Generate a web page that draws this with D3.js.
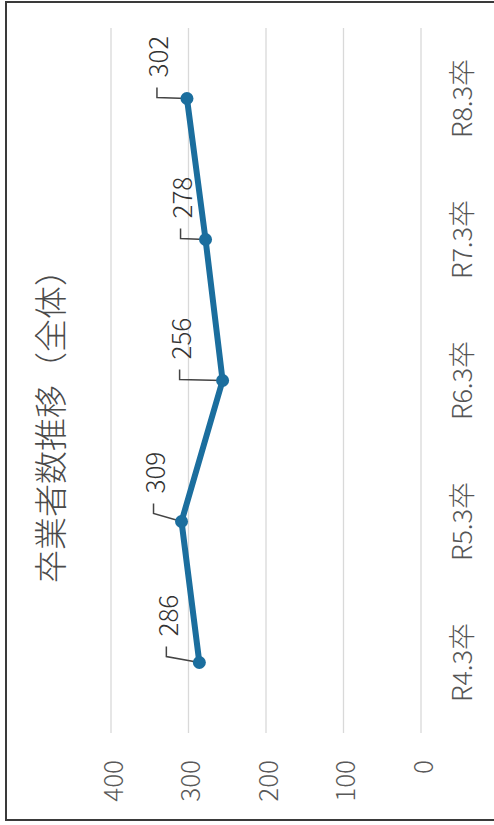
<!DOCTYPE html>
<html><head><meta charset="utf-8">
<script src="https://cdn.jsdelivr.net/npm/d3@7/dist/d3.min.js"></script>
<style>html,body{margin:0;padding:0;background:#fff;}svg{display:block;}</style>
</head><body>
<svg id="chart" width="494" height="825"></svg>
<script>
const title = "卒業者数推移（全体）";
const categories = ["R4.3卒", "R5.3卒", "R6.3卒", "R7.3卒", "R8.3卒"];
const values = [286, 309, 256, 278, 302];
const yTicks = [0, 100, 200, 300, 400];
// label nudges (layout only): [along category axis, across value axis] in px
const labelNudge = [[26, -33], [28, -28], [21, -43], [21, -25], [21, -30]];

const W = 494, H = 825;
const svg = d3.select("#chart");
svg.append("rect").attr("width", W).attr("height", H).attr("fill", "#fff");

// chart drawn unrotated, then rotated -90deg (scanned page orientation)
const g = svg.append("g").attr("transform", `translate(0,${H}) rotate(-90)`);
const font = "'Noto Sans CJK JP', 'Noto Sans', sans-serif";

// frame
g.append("rect").attr("x", 5).attr("y", 6).attr("width", 818).attr("height", 510)
  .attr("fill", "none").attr("stroke", "#3a3a3a").attr("stroke-width", 2);

const x = d3.scaleBand().domain(categories).range([92, 797]).padding(0);
const y = d3.scaleLinear().domain([0, 400]).range([421, 111]);
const cx = d => x(d) + x.bandwidth() / 2;

// gridlines
g.append("g").selectAll("line").data(yTicks).join("line")
  .attr("x1", 92).attr("x2", 797)
  .attr("y1", d => y(d)).attr("y2", d => y(d))
  .attr("stroke", "#d9d9d9").attr("stroke-width", 1.3);

// value axis labels
g.append("g").selectAll("text").data(yTicks).join("text")
  .attr("x", 65).attr("y", d => y(d))
  .attr("text-anchor", "end").attr("dominant-baseline", "central")
  .attr("font-family", font).attr("font-size", 26).attr("font-weight", 300).attr("fill", "#595959")
  .text(d => d);

// category labels
g.append("g").selectAll("text").data(categories).join("text")
  .attr("x", d => cx(d)).attr("y", 460)
  .attr("text-anchor", "middle").attr("dominant-baseline", "central")
  .attr("font-family", font).attr("font-size", 27).attr("font-weight", 300).attr("fill", "#555")
  .text(d => d);

// title
g.append("text").attr("x", 407).attr("y", 49)
  .attr("text-anchor", "middle").attr("dominant-baseline", "central")
  .attr("font-family", font).attr("font-size", 33).attr("font-weight", 300).attr("fill", "#4a4a4a")
  .text(title);

const pts = categories.map((c, i) => ({c, v: values[i], px: cx(c), py: y(values[i]), n: labelNudge[i]}));

// leader lines
g.append("g").selectAll("path").data(pts).join("path")
  .attr("d", d => {
    const lx = d.px + d.n[0], ly = d.py + d.n[1];
    return `M${d.px},${d.py} L${lx - 20},${ly} L${lx - 10},${ly}`;
  })
  .attr("fill", "none").attr("stroke", "#444").attr("stroke-width", 1.5);

// line
const line = d3.line().x(d => d.px).y(d => d.py);
g.append("path").datum(pts).attr("d", line)
  .attr("fill", "none").attr("stroke", "#1b6e9e").attr("stroke-width", 6)
  .attr("stroke-linejoin", "round");

// markers
g.append("g").selectAll("circle").data(pts).join("circle")
  .attr("cx", d => d.px).attr("cy", d => d.py).attr("r", 6.5)
  .attr("fill", "#1b6e9e");

// data labels
g.append("g").selectAll("text").data(pts).join("text")
  .attr("x", d => d.px + d.n[0]).attr("y", d => d.py + d.n[1])
  .attr("text-anchor", "start").attr("dominant-baseline", "central")
  .attr("font-family", font).attr("font-size", 26).attr("font-weight", 300).attr("fill", "#333")
  .text(d => d.v);
</script>
</body></html>
